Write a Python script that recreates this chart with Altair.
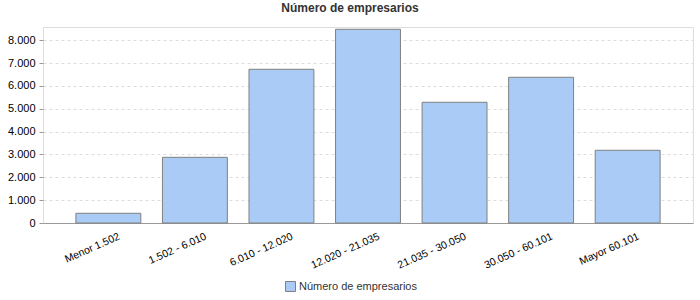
import altair as alt
import pandas as pd

categories = ["Menor 1.502", "1.502 - 6.010", "6.010 - 12.020", "12.020 - 21.035",
              "21.035 - 30.050", "30.050 - 60.101", "Mayor 60.101"]
values = [425, 2876, 6729, 8480, 5284, 6379, 3183]
series = ["Número de empresarios"] * len(categories)

df = pd.DataFrame({"rango": categories, "valor": values, "serie": series})

chart = alt.Chart(df).mark_bar(
    stroke="#808080", strokeWidth=1
).encode(
    x=alt.X("rango:N", sort=categories,
            scale=alt.Scale(paddingInner=0.25, paddingOuter=0.38),
            axis=alt.Axis(title=None, labelAngle=-24, labelAlign="right",
                          labelBaseline="top", labelFontSize=10.5, labelColor="#000",
                          labelFont="Liberation Sans", ticks=False, domainColor="#999999",
                          labelPadding=8, labelOffset=9)),
    y=alt.Y("valor:Q", scale=alt.Scale(domain=[0, 8580], nice=False),
            axis=alt.Axis(title=None, values=[0, 1000, 2000, 3000, 4000, 5000, 6000, 7000, 8000],
                          labelExpr="replace(format(datum.value, ',d'), ',', '.')",
                          labelFontSize=11, labelColor="#000", labelFont="Liberation Sans",
                          tickColor="#999999", tickSize=4, domain=False,
                          gridColor="#dddddd", gridDash=[3, 3], labelPadding=4)),
    color=alt.Color("serie:N", scale=alt.Scale(range=["#A9CBF5"]),
                    legend=alt.Legend(title=None, orient="none", legendX=242, legendY=254,
                                      symbolType="square", symbolSize=100,
                                      symbolStrokeColor="#808080", symbolStrokeWidth=1,
                                      labelFontSize=11, labelColor="#333",
                                      labelFont="Liberation Sans", labelOffset=3)),
).properties(
    width=650, height=196,
    title=alt.TitleParams("Número de empresarios", fontSize=12, fontWeight="bold",
                          color="#333333", font="Liberation Sans", anchor="middle",
                          dx=-18, offset=12),
    autosize=alt.AutoSizeParams(type="none"),
    padding={"left": 43, "top": 27, "right": 7, "bottom": 77},
).configure_view(stroke=None).configure(background="white")

chart.save("out.html", embed_options={"renderer": "svg", "actions": False})
